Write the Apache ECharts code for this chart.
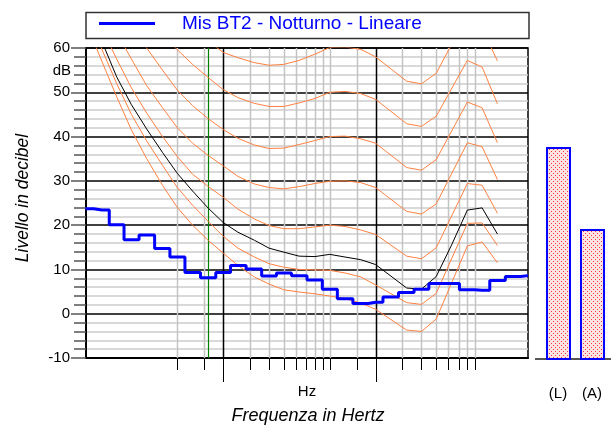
<!DOCTYPE html>
<html><head><meta charset="utf-8">
<script src="https://cdn.jsdelivr.net/npm/echarts@6/dist/echarts.min.js"></script>
<style>html,body{margin:0;padding:0;background:#fff}#c{width:611px;height:425px}</style>
</head><body><div id="c"></div>
<script>
// third-octave band centres (Hz)
const bands = [12.5,16,20,25,31.5,40,50,63,80,100,125,160,200,250,315,400,500,630,800,1000,1250,1600,2000,2500,3150,4000,5000,6300,8000,10000];
// measured spectrum (dB)
const measured = [23.7,23.4,20.1,16.7,17.8,14.7,12.8,9.3,8.1,9.3,10.9,10.1,8.5,9.2,8.6,7.6,5.5,3.4,2.3,2.6,3.8,4.8,5.5,6.8,6.8,5.4,5.3,7.5,8.4,8.6];
const seriesName = 'Mis BT2 - Notturno - Lineare';
// reference curves (values per band, null = no vertex)
const curve1 = [null,null,null,null,null,null,null,64.5,61.5,59.0,57.8,56.7,56.1,56.3,57.2,58.6,60.1,60.2,59.7,58.0,null,52.5,51.9,54.3,null,67.5,64.4,57.1,null,null];
const curve2 = [null,null,null,null,67,63.3,59.6,56.3,53.3,50.6,48.8,47.5,46.8,46.8,47.6,48.6,50.0,50.2,49.7,48.4,null,42.9,42.3,44.6,null,57.2,55.7,47.4,null,null];
const curve3 = [null,null,70.5,65,60,55,50.5,47,44,41.6,39.6,38.1,37.3,37.4,38.2,39.1,40.0,40.1,39.5,38.5,null,33.0,32.4,34.8,null,47.8,46.5,38.6,null,null];
const curve4 = [null,70,63.5,57.5,51.5,46.5,42,38.5,35.7,33.4,31,29.3,28.5,28.2,28.7,29.4,29.9,30.0,29.6,28.5,null,23.1,22.5,24.8,null,38.6,37.7,30.3,null,null];
const curve5 = [71.5,64.5,57.5,51,45.3,40,35.5,31.5,28.7,26.3,23.6,21.4,19.9,19.2,19.2,19.6,20.0,19.7,18.9,17.9,null,13.0,12.4,14.9,null,29.4,29.0,22.7,null,null];
const curve6 = [68,59.7,52,45,39,33.5,28.5,24.5,20.8,17.5,14.8,12.8,11.3,10.5,10.0,9.9,9.8,9.2,8.3,6.5,null,2.5,2.1,4.6,null,20.4,20.5,15.4,null,null];
const curve7 = [66,57,49,41.5,35,29,24,20,16.5,13.7,10.9,8.3,6.7,5.4,4.9,4.5,4.0,3.4,2.4,1.0,null,-3.7,-4.0,-1.2,null,15.3,16.2,11.5,null,null];
const curveBlack = [70,61.5,53.5,47.2,41.7,36.4,31.7,27.7,23.8,20.6,18.4,16.6,14.8,13.9,13.0,12.9,13.4,12.8,12.2,11.1,null,5.8,5.55,8.4,15.5,23.4,23.9,18.0,null,null];
// frequency grid / ticks (Hz)
const minorFreqTicks = [50,75,150,200,250,300,350,400,450,500,750,1500,2000,2500,3000,3500,4000,4500];
const majorFreqTicks = [100,1000];
const markerFreq = [80];
// totals
const totalLabels = ['(L)','(A)'];
const totalValues = [37.4, 19.0];

const FONT = 'Liberation Sans, Arial, sans-serif';
const chart = echarts.init(document.getElementById('c'), null, {renderer:'canvas'});

function toPairs(arr){ const out=[]; arr.forEach((v,i)=>{ if(v!==null) out.push([bands[i], v]); }); return out; }

function vlineRender(color, width, tickLen){
  return function(params, api){
    const f = api.value(0);
    const top = api.coord([f, 60]);
    const bot = api.coord([f, -10]);
    const x = Math.round(top[0]) + 0.5;
    const ch = [{type:'line', shape:{x1:x,y1:top[1],x2:x,y2:bot[1]}, style:{stroke:color, lineWidth:width}}];
    if (tickLen) ch.push({type:'line', shape:{x1:x,y1:bot[1],x2:x,y2:bot[1]+tickLen}, style:{stroke:'#000', lineWidth:1}});
    return {type:'group', children:ch};
  };
}

// dotted pink pattern
const pc = document.createElement('canvas'); pc.width = 4; pc.height = 4;
const pctx = pc.getContext('2d');
pctx.fillStyle = '#ffe2e2'; pctx.fillRect(0,0,4,4);
pctx.fillStyle = '#f03a3a'; pctx.fillRect(1,1,1,1); pctx.fillRect(3,3,1,1);

const orange = '#ff8040';
const curveSeries = [curve1,curve2,curve3,curve4,curve5,curve6,curve7].map(c => ({
  type:'line', xAxisIndex:0, yAxisIndex:0, data: toPairs(c), showSymbol:false, symbol:'none',
  lineStyle:{color:orange, width:1}, itemStyle:{color:orange}, z:3, silent:true
}));

const option = {
  animation:false,
  textStyle:{fontFamily:FONT},
  grid:[
    {left:86, right:83, top:48, bottom:67, show:true, borderColor:'#000', borderWidth:1.5},
    {left:541, width:68, top:48, bottom:67, show:false}
  ],
  legend:{
    left:99, top:14, itemWidth:56, itemHeight:3, icon:'rect', padding:0, selectedMode:false,
    data:[seriesName],
    textStyle:{color:'#0000ff', fontSize:19, fontFamily:FONT, padding:[0,0,0,22]}
  },
  xAxis:[
    {gridIndex:0, type:'log', logBase:10, min:12.589, max:10000,
     axisLine:{show:true, onZero:false, lineStyle:{color:'#000', width:2}},
     axisTick:{show:false}, axisLabel:{show:false}, splitLine:{show:false}, minorTick:{show:false}},
    {gridIndex:1, type:'category', data:totalLabels,
     axisLine:{show:false}, axisTick:{show:false},
     axisLabel:{fontSize:15, color:'#000', margin:28, fontFamily:FONT}}
  ],
  yAxis:[
    {gridIndex:0, type:'value', min:-10, max:60, interval:10,
     axisLine:{show:true, lineStyle:{color:'#000', width:2}},
     axisTick:{show:true, length:15, lineStyle:{color:'#555', width:1.5}},
     minorTick:{show:true, splitNumber:5, length:12, lineStyle:{color:'#555', width:1.5}},
     axisLabel:{fontSize:15, color:'#000', margin:16, fontFamily:FONT},
     splitLine:{show:true, lineStyle:{color:'#000', width:1.5}},
     minorSplitLine:{show:true, lineStyle:{color:'#cdcdcd', width:1.5}}},
    {gridIndex:1, type:'value', min:-10, max:60, interval:10, show:false}
  ],
  series:[
    {type:'custom', xAxisIndex:0, yAxisIndex:0, data:minorFreqTicks.map(f=>[f]), renderItem:vlineRender('#c4c4c4',1.5,12), z:1, silent:true, clip:false},
    {type:'custom', xAxisIndex:0, yAxisIndex:0, data:majorFreqTicks.map(f=>[f]), renderItem:vlineRender('#000',1.5,24), z:2, silent:true, clip:false},
    {type:'custom', xAxisIndex:0, yAxisIndex:0, data:markerFreq.map(f=>[f]), renderItem:vlineRender('#008000',1.2,0), z:2, silent:true, clip:false},
    ...curveSeries,
    {type:'line', xAxisIndex:0, yAxisIndex:0, data:toPairs(curveBlack), showSymbol:false, symbol:'none',
     lineStyle:{color:'#000', width:1}, itemStyle:{color:'#000'}, z:3, silent:true},
    {name:seriesName, type:'line', xAxisIndex:0, yAxisIndex:0, step:'middle',
     data: bands.map((f,i)=>[f, measured[i]]), showSymbol:false, symbol:'none',
     lineStyle:{color:'#0000ff', width:3}, itemStyle:{color:'#0000ff'}, z:5},
    {type:'custom', xAxisIndex:1, yAxisIndex:1, data: totalValues.map((v,i)=>[i, v]),
     renderItem:function(params, api){
       const i = api.value(0), v = api.value(1);
       const p0 = api.coord([i, -10]); const p1 = api.coord([i, v]);
       const w = 23;
       return {type:'rect', shape:{x:Math.round(p1[0]-w/2), y:Math.round(p1[1]), width:w, height:Math.round(p0[1]-p1[1])+1},
               style:{fill:{image:pc, repeat:'repeat'}, stroke:'#0000ff', lineWidth:2}};
     }, z:4, silent:true}
  ],
  graphic:[
    {type:'rect', shape:{x:86, y:12.5, width:443, height:26}, style:{fill:'none', stroke:'#333', lineWidth:1.5}, silent:true},
    {type:'line', shape:{x1:535, y1:359, x2:611, y2:359}, style:{stroke:'#555', lineWidth:2}, silent:true},
    {type:'text', x:71, y:71, style:{text:'dB', fontSize:15, fontFamily:FONT, fill:'#000', align:'right', verticalAlign:'middle'}},
    {type:'text', x:307, y:392, style:{text:'Hz', fontSize:15, fontFamily:FONT, fill:'#000', align:'center', verticalAlign:'middle'}},
    {type:'text', x:308, y:416, style:{text:'Frequenza in Hertz', fontSize:18, fontStyle:'italic', fontFamily:FONT, fill:'#000', align:'center', verticalAlign:'middle'}},
    {type:'text', x:23, y:198, rotation:Math.PI/2, style:{text:'Livello in decibel', fontSize:17.5, fontStyle:'italic', fontFamily:FONT, fill:'#000', align:'center', verticalAlign:'middle'}}
  ]
};
chart.setOption(option);
</script></body></html>
